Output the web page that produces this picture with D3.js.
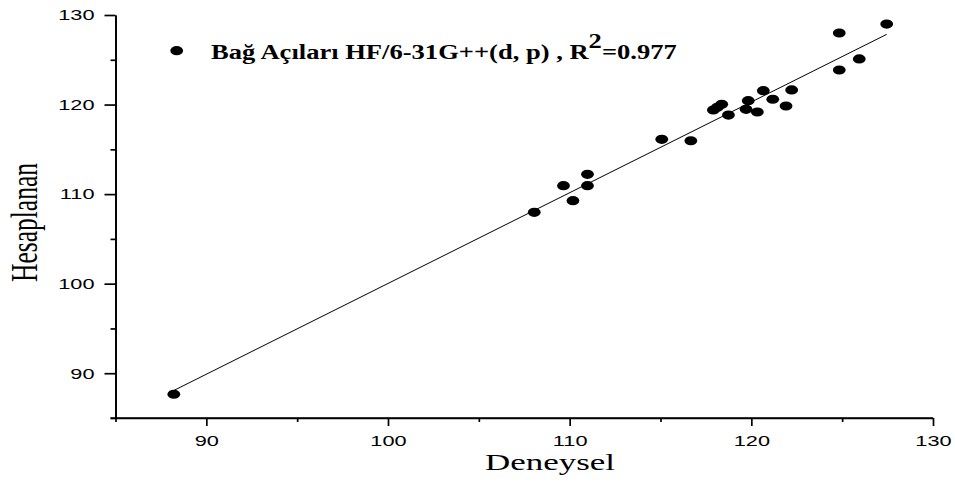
<!DOCTYPE html>
<html>
<head>
<meta charset="utf-8">
<script src="https://cdn.jsdelivr.net/npm/d3@7"></script>
<style>
  body { margin: 0; background: #fff; }
  svg { display: block; }
</style>
</head>
<body>
<svg id="chart" width="955" height="483"></svg>
<script>
var deneysel = [88.21, 108.05, 109.66, 110.18, 110.98, 110.98, 115.07, 116.67, 117.91, 118.13,
	118.37, 118.74, 119.71, 119.83, 120.33, 120.66, 121.18, 121.91, 122.22, 124.84,
	127.45, 125.94, 124.84];
var hesaplanan = [87.65, 107.97, 110.94, 109.27, 112.21, 110.94, 116.12, 115.96, 119.39, 119.69,
	120.03, 118.83, 119.47, 120.43, 119.17, 121.55, 120.59, 119.84, 121.63, 127.99,
	128.99, 125.09, 123.86];
var majorTicks = [90, 100, 110, 120, 130];
var minorTicks = [85, 95, 105, 115, 125];
var legendLabel = "Bağ Açıları HF/6-31G++(d, p) , R";
var legendR2 = "=0.977";

var data = deneysel.map((d, i) => ({x: d, y: hesaplanan[i]}));

var svg = d3.select("#chart");
var sx = 1.45; // the picture is stretched horizontally

var x = d3.scaleLinear().domain([85, 130]).range([115.5, 933]);
var y = d3.scaleLinear().domain([85, 130]).range([418, 15]);

function styleAxis(g) {
	g.selectAll("path, line").attr("stroke", "#000").attr("stroke-width", 1.7);
	g.selectAll("text").attr("fill", "#000")
		.style("font-family", "'Liberation Sans', Arial, sans-serif")
		.style("font-size", "15px");
}

// x axis
svg.append("g")
	.attr("transform", "translate(0,418)")
	.call(d3.axisBottom(x).tickValues(minorTicks).tickFormat("").tickSize(4).tickSizeOuter(0))
	.call(styleAxis);
var xg = svg.append("g")
	.attr("transform", "translate(0,418)")
	.call(d3.axisBottom(x).tickValues(majorTicks).tickSize(8).tickPadding(9).tickSizeOuter(0))
	.call(styleAxis);
xg.selectAll("text").attr("transform", "scale(" + sx + ",1)");
xg.select(".domain").attr("d", "M110.5,0H933");

// y axis
svg.append("g")
	.attr("transform", "translate(115.5,0)")
	.call(d3.axisLeft(y).tickValues(minorTicks).tickFormat("").tickSize(5).tickSizeOuter(0))
	.call(styleAxis);
var yg = svg.append("g")
	.attr("transform", "translate(115.5,0)")
	.call(d3.axisLeft(y).tickValues(majorTicks).tickSize(11).tickSizeOuter(0))
	.call(styleAxis);
yg.selectAll("text").attr("x", -21 / sx).attr("transform", "scale(" + sx + ",1)");

// least squares line
var mx = d3.mean(data, d => d.x), my = d3.mean(data, d => d.y);
var slope = d3.sum(data, d => (d.x - mx) * (d.y - my)) / d3.sum(data, d => (d.x - mx) * (d.x - mx));
var icpt = my - slope * mx;
var ext = d3.extent(deneysel);
svg.append("path")
	.datum(ext.map(v => [v, icpt + slope * v]))
	.attr("fill", "none")
	.attr("stroke", "#000")
	.attr("stroke-width", 1)
	.attr("d", d3.line().x(d => x(d[0])).y(d => y(d[1])));

// points
svg.selectAll(".dot")
	.data(data)
.enter().append("ellipse")
	.attr("class", "dot")
	.attr("cx", d => x(d.x))
	.attr("cy", d => y(d.y))
	.attr("rx", 6.4)
	.attr("ry", 4.6)
	.attr("fill", "#000");

// legend
svg.append("ellipse")
	.attr("cx", 176.7).attr("cy", 50.7)
	.attr("rx", 6.4).attr("ry", 4.6)
	.attr("fill", "#000");

var leg = svg.append("text")
	.style("font-family", "'Liberation Serif', 'Times New Roman', serif")
	.style("font-weight", "bold")
	.style("font-size", "20px");
leg.append("tspan").text(legendLabel);
leg.append("tspan").attr("dy", -11).text("2");
leg.append("tspan").attr("dy", 11).text(legendR2);
var lw = leg.node().getComputedTextLength();
leg.attr("transform", "translate(211,59.3) scale(" + (466 / lw) + ",1)");

// axis titles
var xt = svg.append("text")
	.attr("text-anchor", "middle")
	.style("font-family", "'Liberation Serif', 'Times New Roman', serif")
	.style("font-size", "23px")
	.text("Deneysel");
var xw = xt.node().getComputedTextLength();
xt.attr("transform", "translate(550,470) scale(" + (130 / xw) + ",1)");

var yt = svg.append("text")
	.attr("text-anchor", "middle")
	.style("font-family", "'Liberation Serif', 'Times New Roman', serif")
	.style("font-size", "25.5px")
	.text("Hesaplanan");
yt.attr("transform", "translate(36.7,222.5) scale(" + sx + ",1) rotate(-90)");
</script>
</body>
</html>
